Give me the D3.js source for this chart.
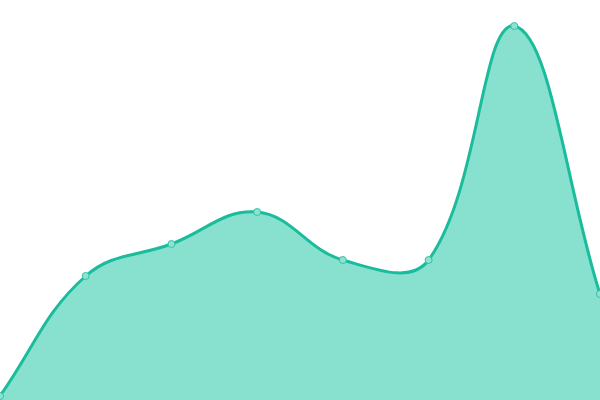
<!DOCTYPE html>
<html>
<head>
<meta charset="utf-8">
<script src="https://cdn.jsdelivr.net/npm/d3@7"></script>
<style>
  html, body { margin: 0; padding: 0; background: #fff; }
  svg { display: block; }
</style>
</head>
<body>
<svg id="chart" width="600" height="400"></svg>
<script>
// data (arbitrary units, 0..100)
var labels = ["A", "B", "C", "D", "E", "F", "G", "H"];
var values = [1, 31, 39, 47, 35, 35, 93.5, 26.5];

var width = 600,
  height = 400,
  tension = 0.4,
  lineColor = "#1abc9c",
  fillColor = "#88e0cf";

var x = d3.scalePoint().domain(labels).range([0, width]);
var y = d3.scaleLinear().domain([0, 100]).range([height, 0]);

var pts = labels.map(function(d, i) {
  return { x: x(d), y: y(values[i]) };
});

// spline control points, same rule as a tension based bezier
function controlPoints(points) {
  var out = [];
  for (var i = 0; i < points.length; i++) {
    var cur = points[i],
      prev = points[i - 1] || cur,
      next = points[i + 1] || cur;
    var d01 = Math.hypot(cur.x - prev.x, cur.y - prev.y);
    var d12 = Math.hypot(next.x - cur.x, next.y - cur.y);
    var s01 = d01 / (d01 + d12) || 0,
      s12 = d12 / (d01 + d12) || 0;
    var fa = tension * s01,
      fb = tension * s12;
    var clampX = function(v) { return Math.max(0, Math.min(width, v)); };
    var clampY = function(v) { return Math.max(0, Math.min(height, v)); };
    out.push({
      px: clampX(cur.x - fa * (next.x - prev.x)),
      py: clampY(cur.y - fa * (next.y - prev.y)),
      nx: clampX(cur.x + fb * (next.x - prev.x)),
      ny: clampY(cur.y + fb * (next.y - prev.y))
    });
  }
  return out;
}

var cps = controlPoints(pts);

function linePath(p) {
  p.moveTo(pts[0].x, pts[0].y);
  for (var i = 1; i < pts.length; i++) {
    p.bezierCurveTo(cps[i - 1].nx, cps[i - 1].ny, cps[i].px, cps[i].py, pts[i].x, pts[i].y);
  }
  return p;
}

var svg = d3.select("#chart");

var area = linePath(d3.path());
area.lineTo(pts[pts.length - 1].x, y(0));
area.lineTo(pts[0].x, y(0));
area.closePath();

svg.append("path")
  .attr("d", area.toString())
  .attr("fill", fillColor);

svg.append("path")
  .attr("d", linePath(d3.path()).toString())
  .attr("fill", "none")
  .attr("stroke", lineColor)
  .attr("stroke-width", 3);

svg.selectAll("circle")
  .data(pts)
  .enter().append("circle")
  .attr("cx", function(d) { return d.x; })
  .attr("cy", function(d) { return d.y; })
  .attr("r", 3.5)
  .attr("fill", "#8fe2d1")
  .attr("stroke", "#2ec4a6")
  .attr("stroke-width", 1);
</script>
</body>
</html>
